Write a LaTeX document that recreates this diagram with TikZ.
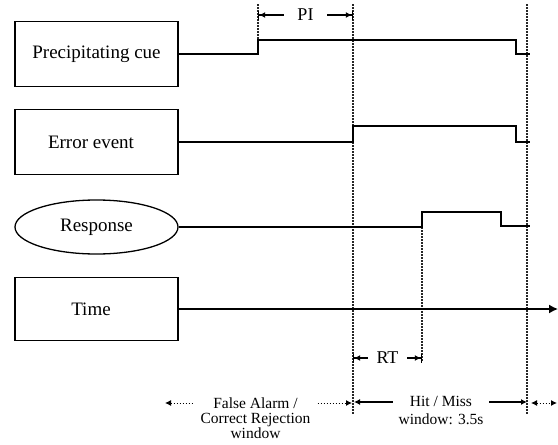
\documentclass[tikz,border=0pt]{standalone}
\usepackage{fontspec}
\setmainfont{Liberation Serif}
\usetikzlibrary{arrows.meta,shapes.geometric}
\begin{document}
\begin{tikzpicture}[x=1pt,y=-1pt,
  lbl/.style={draw, line width=1.3pt, minimum width=163pt, minimum height=65pt,
    font=\fontsize{19}{22}\selectfont, inner sep=0pt},
  sig/.style={line width=1.4pt},
  guide/.style={line width=1.1pt, dash pattern=on 1.5pt off 1.5pt, black!85},
  dimline/.style={line width=1.2pt,
    {Bar[width=9pt,line width=1.2pt]Latex[length=6pt,width=6pt]}-{Latex[length=6pt,width=6pt]Bar[width=9pt,line width=1.2pt]}},
  dimlabel/.style={fill=white, font=\fontsize{18}{20}\selectfont, inner ysep=2pt},
  winarrow/.style={line width=1.2pt, {Latex[length=6pt,width=6pt]}-{Latex[length=6pt,width=6pt]}},
  dotarrow/.style={line width=1pt, dash pattern=on 1.5pt off 1.5pt,
    {Latex[length=6pt,width=6pt]}-{Latex[length=6pt,width=6pt]}},
  wintext/.style={fill=white, align=center, font=\fontsize{15.5}{17}\selectfont}]
\useasboundingbox (0,0) rectangle (558,445);

% labels
\node[lbl] (cue) at (96.5,54) {Precipitating cue};
\node[lbl] (err) at (96.5,142) {Error event\hspace*{11pt}};
\node[lbl, ellipse, minimum height=54pt] (resp) at (96.5,227) {Response};
\node[lbl, minimum height=63pt] (time) at (96.5,309) {Time\hspace*{11pt}};

% time marks
\coordinate (pTop) at (258,4);
\coordinate (pStep) at (258,40);
\coordinate (eTop) at (353,4);
\coordinate (eBot) at (353,415);
\coordinate (xTop) at (527,4);
\coordinate (xBot) at (527,415);
\coordinate (rTop) at (422,212);
\coordinate (rBot) at (422,362);

% guides
\draw[guide] (pTop) -- (pStep);
\draw[guide] (eTop) -- (eBot);
\draw[guide] (xTop) -- (xBot);
\draw[guide] (rTop) -- (rBot);

% signals
\draw[sig] (cue.east) -- (258,54) -- (258,40) -- (516,40) -- (516,54) -- (530,54);
\draw[sig] (err.east) -- (353,142) -- (353,126) -- (516,126) -- (516,142) -- (530,142);
\draw[sig] (resp.east) -- (422,227) -- (422,212) -- (501,212) -- (501,226) -- (530,226);
\coordinate (tEnd) at (558,309);
\draw[sig, -{Latex[length=9pt,width=9pt]}] (time.east) -- (tEnd);

% PI and RT
\coordinate (piL) at (258,15);
\coordinate (piR) at (353,15);
\draw[dimline] (piL) -- node[dimlabel, inner xsep=13pt] (pi) {PI} (piR);
\coordinate (rtL) at (353,358);
\coordinate (rtR) at (422,358);
\draw[dimline] (rtL) -- node[dimlabel, inner xsep=9pt] (rt) {RT} (rtR);

% windows
\coordinate (faL) at (165,403);
\coordinate (faR) at (352,403);
\draw[dotarrow] (faL) -- (faR);
\node[wintext, font=\fontsize{15.5}{15}\selectfont, inner xsep=6.5pt, anchor=north] (fa) at (255.5,394)
  {False Alarm /\\Correct Rejection\\window};

\coordinate (hmL) at (354,402);
\coordinate (hmR) at (527,402);
\draw[winarrow] (hmL) -- (hmR);
\node[wintext, inner xsep=6pt, anchor=north] (hm) at (441,393)
  {Hit / Miss\\[1pt]window: 3.5s};

\coordinate (afL) at (531,403);
\coordinate (afR) at (557,403);
\draw[dotarrow] (afL) -- (afR);
\end{tikzpicture}
\end{document}
